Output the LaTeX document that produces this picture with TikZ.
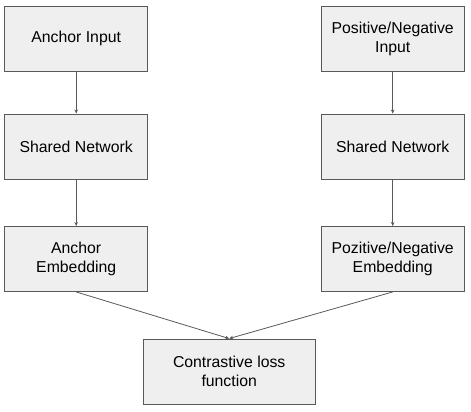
\documentclass[tikz,border=0pt]{standalone}
\usepackage{fontspec}
\setmainfont{Liberation Sans}
\usetikzlibrary{arrows.meta}
\definecolor{boxfill}{HTML}{EFEFEF}
\definecolor{boxline}{HTML}{595959}
\begin{document}
\begin{tikzpicture}[x=1pt,y=-1pt,
	box/.style={draw=boxline,fill=boxfill,line width=0.9pt,minimum width=143pt,minimum height=65pt,align=center,inner sep=0pt,font=\fontsize{15.8}{18.5}\selectfont},
	link/.style={draw=boxline,line width=0.8pt,-{Stealth[length=4pt,width=3.5pt]}}]
	\useasboundingbox (0,0) rectangle (471,412);
	
	\node[box] (anchorin) at (76.2,38.5) {Anchor Input};
	\node[box] (posnegin) at (392.7,39) {Positive/Negative\\Input};
	\node[box] (netleft) at (76.2,146.5) {Shared Network};
	\node[box] (netright) at (392.7,146.5) {Shared Network};
	\node[box] (anchoremb) at (76.2,259) {Anchor\\Embedding};
	\node[box] (posnegemb) at (392.7,259) {Pozitive/Negative\\Embedding};
	\node[box,minimum width=172pt] (loss) at (229.2,371.5) {Contrastive loss\\function};
	
	\draw[link] (anchorin) -- (netleft);
	\draw[link] (posnegin) -- (netright);
	\draw[link] (netleft) -- (anchoremb);
	\draw[link] (netright) -- (posnegemb);
	\draw[link] (anchoremb.south) -- (loss.north);
	\draw[link] (posnegemb.south) -- (loss.north);
\end{tikzpicture}
\end{document}
